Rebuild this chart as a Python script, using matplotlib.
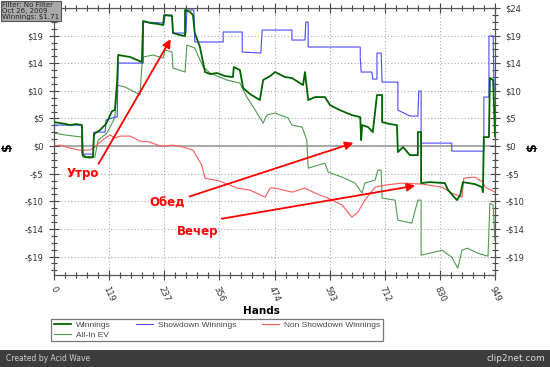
import matplotlib
matplotlib.use('Agg')
import matplotlib.pyplot as plt
import numpy as np
from matplotlib.patches import Rectangle

# data: (hands, dollars)
win_x = [0, 26, 34, 47, 60, 62, 69, 84, 86, 99, 105, 112, 116, 125, 131, 136, 138, 164, 179, 189,
         192, 207, 224, 235, 237, 254, 256, 271, 282, 282, 293, 299, 303, 314, 325, 336, 351, 368,
         385, 387, 400, 407, 422, 443, 450, 465, 476, 497, 512, 536, 540, 547, 562, 583, 594, 615,
         641, 659, 661, 663, 676, 686, 695, 706, 706, 723, 738, 740, 751, 766, 783, 783, 790, 790,
         809, 841, 848, 867, 874, 880, 906, 921, 923, 925, 936, 938, 945, 947, 949]
win_y = [4.17, 3.83, 3.65, 3.83, 3.65, -1.57, -1.91, -1.91, 2.09, 2.78, 3.30, 3.83, 4.52, 6.09,
         6.26, 11.48, 15.83, 15.48, 14.96, 14.61, 21.74, 21.39, 21.22, 21.04, 22.78, 22.61, 19.65,
         19.30, 19.13, 23.65, 23.30, 22.78, 19.65, 17.22, 12.87, 12.52, 12.70, 12.17, 12.00, 13.74,
         13.22, 10.09, 9.04, 8.00, 11.48, 12.17, 12.87, 12.00, 11.83, 10.61, 12.87, 8.00, 8.52,
         8.52, 7.13, 6.26, 5.39, 5.04, 1.04, 3.65, 3.30, 2.43, 8.87, 8.87, 4.17, 3.83, 3.65, -1.04,
         -0.17, -1.57, -1.57, 2.43, 2.43, -6.43, -6.26, -6.43, -7.65, -9.39, -8.52, -6.26, -6.61,
         -7.13, -8.00, 1.57, 1.57, 11.83, 11.48, 6.61, 1.71]

sd_x = [0, 60, 60, 84, 86, 110, 112, 131, 136, 138, 192, 192, 237, 239, 254, 256, 284, 286, 301,
        303, 364, 364, 405, 405, 445, 448, 512, 512, 540, 542, 547, 547, 659, 659, 661, 684, 686,
        695, 695, 704, 706, 740, 740, 766, 783, 785, 790, 790, 856, 856, 925, 925, 936, 936, 945,
        947, 949]
sd_y = [3.65, 3.65, -1.39, -1.39, 2.43, 2.43, 4.52, 5.04, 5.04, 14.43, 14.43, 21.57, 21.39, 22.78,
        22.78, 19.65, 19.65, 23.65, 23.65, 18.09, 18.09, 19.83, 19.83, 16.35, 16.17, 20.17, 20.17,
        18.43, 18.43, 21.57, 21.57, 17.22, 17.22, 15.30, 12.87, 12.87, 11.65, 11.65, 16.17, 16.17,
        11.13, 11.13, 6.26, 5.22, 5.22, 9.57, 9.57, 0.52, 0.52, -0.87, -0.87, 8.52, 8.52, 19.13,
        19.13, 9.74, 9.74]

nsd_x = [0, 13, 34, 56, 77, 88, 99, 110, 121, 131, 142, 164, 185, 207, 228, 256, 278, 299, 318,
         325, 357, 394, 422, 454, 465, 476, 512, 540, 562, 590, 620, 641, 654, 669, 691, 712, 749,
         792, 835, 856, 878, 882, 906, 923, 928, 949]
nsd_y = [0, 0.17, -0.35, -0.70, -0.70, -0.17, 0.70, 1.39, 1.91, 1.39, 1.74, 1.74, 0.87, 0.70, 0,
         0.17, -0.17, -0.70, -3.30, -5.57, -6.09, -7.30, -7.65, -8.87, -7.30, -7.30, -8.00, -7.30,
         -8.17, -9.04, -10.26, -12.35, -11.48, -9.39, -7.13, -6.78, -6.43, -6.61, -7.13, -8.17,
         -8.87, -5.57, -5.39, -6.26, -7.13, -8.00]

ev_x = [0, 26, 60, 62, 77, 88, 95, 114, 125, 131, 136, 153, 174, 185, 189, 192, 213, 235, 239, 254,
        256, 282, 286, 303, 321, 336, 372, 400, 415, 433, 450, 458, 476, 504, 512, 534, 544, 547,
        583, 590, 620, 648, 663, 669, 691, 697, 704, 706, 734, 740, 770, 783, 790, 790, 835, 856,
        869, 878, 889, 912, 934, 938, 945, 949]
ev_y = [2.26, 1.91, 1.57, -1.91, -2.09, -1.91, 1.04, 2.26, 4.0, 5.04, 10.61, 10.26, 9.39, 8.87,
        13.74, 15.48, 15.83, 15.30, 16.70, 16.35, 13.57, 12.87, 17.57, 17.04, 13.74, 12.70, 11.48,
        10.96, 8.52, 6.26, 4.0, 5.39, 5.74, 4.87, 3.65, 3.30, 1.04, -3.83, -2.96, -4.52, -5.39,
        -6.43, -8.17, -6.43, -5.91, -4.17, -4.17, -9.04, -9.39, -12.87, -13.39, -9.39, -9.39,
        -18.96, -18.09, -19.30, -21.22, -18.09, -17.74, -18.61, -19.13, -9.91, -10.26, -16.35]

n_hands = 949
y_top = 24.0
y_bottom = -22.4
y_step = 4.8

# hand-drawn notes on the screenshot (text, text pos, arrow tail, arrow tip)
notes = [
    ('Утро', (62, -4.7), (93, -3.5), (254, 19.0)),
    ('Обед', (243, -9.9), (286, -8.9), (650, 0.7)),
    ('Вечер', (310, -14.8), (355, -12.7), (783, -6.8)),
]

fig = plt.figure(figsize=(5.5, 3.67), dpi=100)
fig.patch.set_facecolor('white')
ax = fig.add_axes([54/550, 1-275/367, 441/550, 267/367])

ax.axhline(0, color='#999999', lw=1.2, zorder=1)
l_ev, = ax.plot(ev_x, ev_y, color='#4f9a4f', lw=0.8, label='All-In EV', zorder=2)
l_nsd, = ax.plot(nsd_x, nsd_y, color='#ff5a5a', lw=0.8, label='Non Showdown Winnings', zorder=2)
l_sd, = ax.plot(sd_x, sd_y, color='#4a4aff', lw=0.8, label='Showdown Winnings', zorder=3)
l_win, = ax.plot(win_x, win_y, color='#006400', lw=1.3, label='Winnings', zorder=4)

ax.set_xlim(0, n_hands)
ax.set_ylim(y_bottom, y_top)

xt = np.linspace(0, n_hands, 9)
ax.set_xticks(xt)
ax.set_xticklabels(['%d' % round(v) for v in xt], rotation=-65, fontsize=6, color='#333333')
ax.set_xticks(np.linspace(0, n_hands, 41), minor=True)

yt = np.arange(-4, 6) * y_step
yt = yt[(yt >= y_bottom) & (yt <= y_top + 0.01)]
ax.set_yticks(yt)
ax.set_yticklabels([('-$%d' % round(-v)) if v < 0 else ('$%d' % round(v)) for v in yt],
                   fontsize=6, color='#333333')
ax.set_yticks(np.arange(-18, 21) * y_step / 4, minor=True)
ax.set_ylim(y_bottom, y_top)
# the info box hides the top left label
ax.yaxis.get_major_ticks()[-1].label1.set_visible(False)

ax.tick_params(which='both', direction='inout', color='#444444', top=True, right=True,
               labelright=True, pad=4)
ax.tick_params(which='major', length=7, width=0.8)
ax.tick_params(which='minor', length=5, width=0.8)
for s in ax.spines.values():
    s.set_color('#555555')
    s.set_linewidth(0.9)
ax.grid(True, which='major', color='#aaaaaa', linestyle=(0, (1, 2)), lw=0.8)

ax.set_xlabel('Hands', fontsize=7.5, fontweight='bold')
ax.xaxis.set_label_coords(0.47, -0.115)
ax.set_ylabel('$', fontsize=9, fontweight='bold', rotation=90)
ax.yaxis.set_label_coords(-0.09, 0.48)
ax.text(1.085, 0.48, '$', transform=ax.transAxes, fontsize=9, fontweight='bold',
        rotation=90, ha='center', va='center')

for txt, tpos, tail, tip in notes:
    ax.annotate('', xy=tip, xytext=tail,
                arrowprops=dict(arrowstyle='-|>', color='red', lw=1.3, mutation_scale=12),
                annotation_clip=False, zorder=6)
    ax.text(tpos[0], tpos[1], txt, color='red', fontsize=8.5, fontweight='bold',
            ha='center', va='center', zorder=6)

leg = fig.legend([l_win, l_ev, l_sd, l_nsd],
                 ['Winnings', 'All-In EV', 'Showdown Winnings', 'Non Showdown Winnings'],
                 ncol=3, loc='upper left', bbox_to_anchor=(51/550, 1-319/367),
                 prop={'family': 'Liberation Sans', 'size': 6.0},
                 frameon=True, fancybox=False, handlelength=2.1,
                 borderpad=0.3, labelspacing=0.2, columnspacing=3.0, handletextpad=0.6,
                 borderaxespad=0)
leg.get_frame().set_edgecolor('#555555')
leg.get_frame().set_linewidth(0.9)
for t in leg.get_texts():
    t.set_color('#444444')

# bottom bar of the screenshot
fig.patches.append(Rectangle((0, 0), 1, 17/367, transform=fig.transFigure,
                             facecolor='#3c3c3c', edgecolor='none', zorder=0))
fig.text(6/550, 8.5/367, 'Created by Acid Wave', color='#cfcfcf', fontsize=5.5, va='center')
fig.text(1-5/550, 8.5/367, 'clip2net.com', color='#dddddd', fontsize=6.5, va='center', ha='right')

# info box top-left
fig.text(2/550, 1-2/367, 'Filter: No Filter\nOct 26, 2009\nWinnings: $1.71', fontsize=5.0,
         color='#222222', va='top', ha='left', linespacing=0.95,
         bbox=dict(boxstyle='square,pad=0.2', facecolor='#a9a9a9', edgecolor='#555555', lw=0.8))

fig.savefig('out.png', dpi=100)
